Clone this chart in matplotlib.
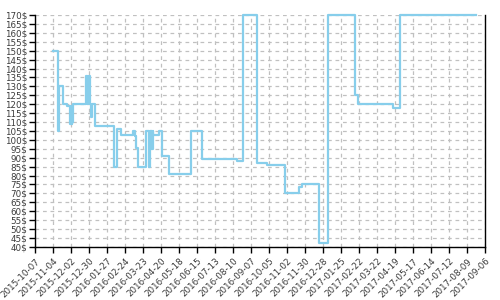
import matplotlib
matplotlib.use("Agg")
import matplotlib.pyplot as plt
import matplotlib.dates as mdates
import numpy as np
import datetime as dt

# price history (step changes)
dates = ["2015-11-04", "2015-11-12", "2015-11-13", "2015-11-20", "2015-11-26",
         "2015-11-30", "2015-12-02", "2015-12-03", "2015-12-04", "2015-12-05",
         "2015-12-26", "2015-12-27", "2015-12-28", "2015-12-29", "2015-12-30",
         "2016-01-01", "2016-01-02", "2016-01-03", "2016-01-09", "2016-02-07",
         "2016-02-11", "2016-02-17", "2016-03-08", "2016-03-10", "2016-03-12",
         "2016-03-15", "2016-03-27", "2016-04-01", "2016-04-03", "2016-04-04",
         "2016-04-05", "2016-04-06", "2016-04-07", "2016-04-08", "2016-04-17",
         "2016-04-21", "2016-05-02", "2016-06-06", "2016-06-23", "2016-08-16",
         "2016-08-26", "2016-09-16", "2016-10-02", "2016-10-30", "2016-11-21",
         "2016-11-25", "2016-12-22", "2017-01-05", "2017-02-16", "2017-02-21",
         "2017-04-16", "2017-04-26", "2017-08-23"]
prices = [150, 105, 130, 120, 119,
          109, 119, 109, 110, 120,
          136, 120, 136, 121, 136,
          120, 113, 120, 107.5, 85,
          106, 103, 105, 102, 95.5,
          85, 105, 85, 105, 95,
          105, 95, 105, 102.7, 105,
          91, 81, 105, 89, 88.3,
          170, 87, 86, 70, 73.5,
          75, 42, 170, 125, 120,
          118, 170, 170]

tick_start = "2015-10-07"
tick_end = "2017-09-06"
tick_step_days = 28
y_min, y_max, y_step = 40, 170, 5

x = [dt.datetime.strptime(d, "%Y-%m-%d") for d in dates]
t0 = dt.datetime.strptime(tick_start, "%Y-%m-%d")
t1 = dt.datetime.strptime(tick_end, "%Y-%m-%d")
ticks = []
t = t0
while t <= t1:
    ticks.append(t)
    t += dt.timedelta(days=tick_step_days)

fig = plt.figure(figsize=(5, 3), dpi=100)
ax = fig.add_axes([0.07, 0.177, 0.90, 0.773])
ax.plot(x, prices, drawstyle="steps-post", color="#87CEEB", linewidth=1.6,
        zorder=3, clip_on=False)

ax.set_xlim(t0, t1)
ax.set_ylim(y_min, y_max)
ax.set_xticks(ticks)
ax.xaxis.set_major_formatter(mdates.DateFormatter("%Y-%m-%d"))
yt = np.arange(y_min, y_max + 1, y_step)
ax.set_yticks(yt)
ax.set_yticklabels([f"{v}$" for v in yt])

ax.grid(True, color="#c0c0c0", linestyle=(0, (3, 3)), linewidth=0.9, zorder=0)
for s in ["left", "bottom", "right"]:
    ax.spines[s].set_color("black")
    ax.spines[s].set_linewidth(1.0)
ax.spines["top"].set_visible(False)
ax.tick_params(axis="both", direction="out", length=4, width=1, color="black",
               labelsize=6.3, labelcolor="#3a3a3a", pad=1.5)
ax.tick_params(axis="x", pad=3)
for lab in ax.get_xticklabels():
    lab.set_rotation(45)
    lab.set_ha("right")
    lab.set_rotation_mode("anchor")

fig.savefig("out.png", dpi=100)
